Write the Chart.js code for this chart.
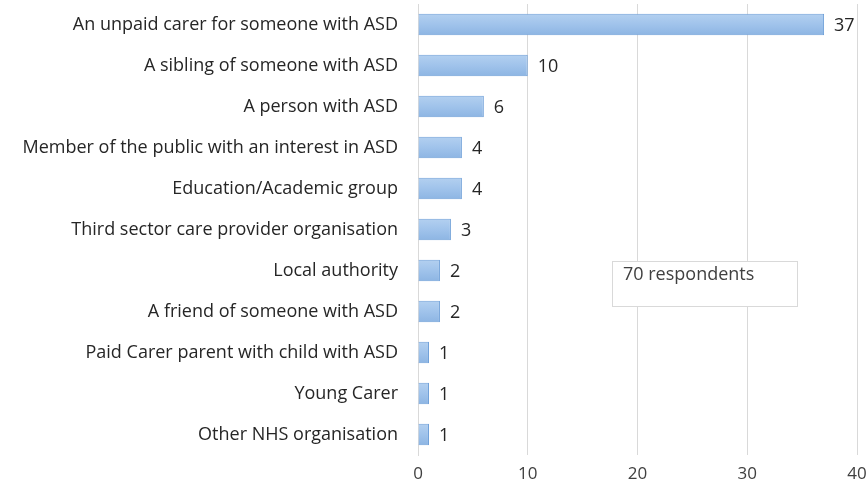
<!DOCTYPE html>
<html>
<head>
<meta charset="utf-8">
<script src="https://cdn.jsdelivr.net/npm/chart.js@4.4.1/dist/chart.umd.min.js"></script>
<style>
  html, body { margin: 0; padding: 0; background: #fff; }
  #wrap { width: 868px; height: 485px; }
</style>
</head>
<body>
<div id="wrap"><canvas id="respChart" width="868" height="485"></canvas></div>
<script>
// respondent groups and counts
const groups = [
    'An unpaid carer for someone with ASD',
    'A sibling of someone with ASD',
    'A person with ASD',
    'Member of the public with an interest in ASD',
    'Education/Academic group',
    'Third sector care provider organisation',
    'Local authority',
    'A friend of someone with ASD',
    'Paid Carer parent with child with ASD',
    'Young Carer',
    'Other NHS organisation'
];
const counts = [37, 10, 6, 4, 4, 3, 2, 2, 1, 1, 1];
const xTicks = [0, 10, 20, 30, 40];
const noteText = '70 respondents';

const FONT = "'Open Sans', sans-serif";

// soft vertical gradient on every bar
const barShade = {
    id: 'barShade',
    beforeDatasetsDraw(chart) {
        const ctx = chart.ctx;
        chart.getDatasetMeta(0).data.forEach(bar => {
            const top = bar.y - bar.height / 2;
            const g = ctx.createLinearGradient(0, top, 0, top + bar.height);
            g.addColorStop(0, '#b3d0f0');
            g.addColorStop(0.5, '#a0c3eb');
            g.addColorStop(1, '#8db5e3');
            bar.options = Object.assign({}, bar.options, { backgroundColor: g });
        });
    }
};

// numbers at the end of each bar
const valueLabels = {
    id: 'valueLabels',
    afterDatasetsDraw(chart) {
        const ctx = chart.ctx;
        const meta = chart.getDatasetMeta(0);
        ctx.save();
        ctx.font = '18px ' + FONT;
        ctx.fillStyle = '#262626';
        ctx.textAlign = 'left';
        ctx.textBaseline = 'middle';
        meta.data.forEach((bar, i) => {
            ctx.fillText(String(counts[i]), bar.x + 10, bar.y + 1);
        });
        ctx.restore();
    }
};

// small boxed note inside the plot
const noteBox = {
    id: 'noteBox',
    afterDraw(chart) {
        const ctx = chart.ctx;
        const area = chart.chartArea;
        const x = area.left + 194, y = 261, w = 185, h = 45;
        ctx.save();
        ctx.fillStyle = '#ffffff';
        ctx.fillRect(x, y, w, h);
        ctx.strokeStyle = '#d9d9d9';
        ctx.lineWidth = 1;
        ctx.strokeRect(x + 0.5, y + 0.5, w, h);
        ctx.font = '18px ' + FONT;
        ctx.fillStyle = '#404040';
        ctx.textBaseline = 'middle';
        ctx.fillText(noteText, x + 11, y + 14);
        ctx.restore();
    }
};

new Chart(document.getElementById('respChart'), {
    type: 'bar',
    data: {
        labels: groups,
        datasets: [{
            data: counts,
            backgroundColor: '#9ec2ea',
            borderColor: '#6e9fd8',
            borderWidth: 1,
            borderSkipped: 'left',
            categoryPercentage: 1,
            barPercentage: 0.52
        }]
    },
    options: {
        indexAxis: 'y',
        responsive: false,
        animation: false,
        layout: { padding: { top: 4, right: 11, left: 0, bottom: 0 } },
        plugins: { legend: { display: false }, tooltip: { enabled: false } },
        scales: {
            x: {
                min: 0,
                max: 40,
                afterBuildTicks: (scale) => { scale.ticks = xTicks.map(v => ({ value: v })); },
                afterFit: (scale) => {
                    scale.height = 30;
                    scale.paddingLeft = 0;
                    scale.paddingRight = 0;
                },
                grid: { color: '#d9d9d9', drawTicks: false },
                border: { display: false },
                ticks: { padding: 9, color: '#404040', font: { family: FONT, size: 17 } }
            },
            y: {
                afterFit: (scale) => {
                    scale.width = 418;
                    scale.paddingTop = 0;
                    scale.paddingBottom = 0;
                },
                grid: { display: false, drawTicks: false },
                border: { display: true, color: '#d9d9d9' },
                ticks: { padding: 20, color: '#262626', font: { family: FONT, size: 18 } }
            }
        }
    },
    plugins: [barShade, valueLabels, noteBox]
});
</script>
</body>
</html>
